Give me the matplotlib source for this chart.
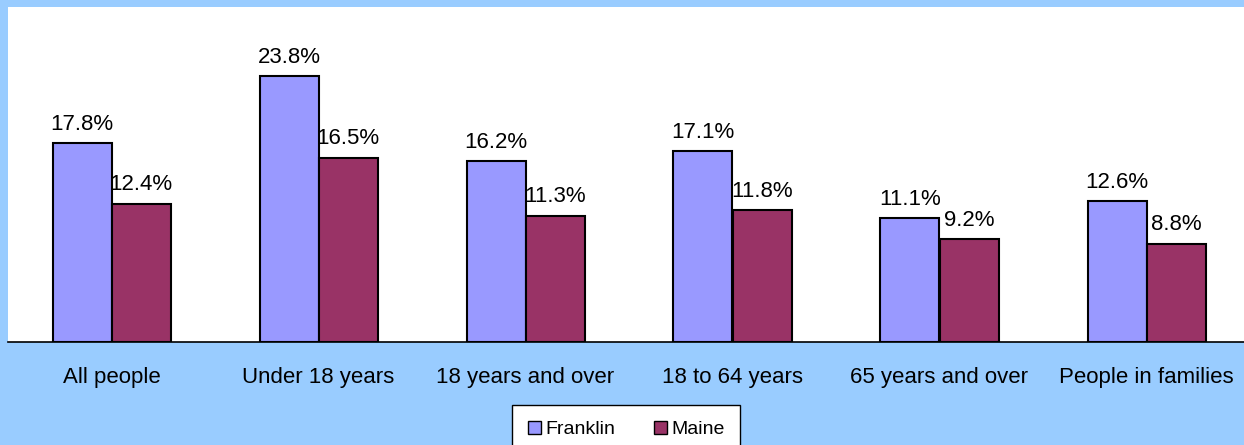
import numpy as np
import matplotlib.pyplot as plt
from matplotlib.patches import Patch

categories = ['All people', 'Under 18 years', '18 years and over', '18 to 64 years',
              '65 years and over', 'People in families']
franklin = [17.8, 23.8, 16.2, 17.1, 11.1, 12.6]
maine = [12.4, 16.5, 11.3, 11.8, 9.2, 8.8]

plt.rcParams['font.family'] = ['Liberation Sans', 'DejaVu Sans']

W, H = 1244, 445
fig = plt.figure(figsize=(W / 100, H / 100), dpi=100)
fig.patch.set_facecolor('#99CCFF')

# plot area: white, from x=8 to past the right edge, y=7..342
ax = fig.add_axes([8 / W, 1 - 342 / H, 1242 / W, 335 / H])
ax.set_facecolor('white')

x = np.arange(len(categories))
w = 59 / 207
b1 = ax.bar(x - w / 2, franklin, w, color='#9999FF', edgecolor='black', linewidth=1.5)
b2 = ax.bar(x + w / 2, maine, w, color='#993366', edgecolor='black', linewidth=1.5)

for bars, vals in ((b1, franklin), (b2, maine)):
    for r, v in zip(bars, vals):
        ax.annotate(f'{v}%', (r.get_x() + r.get_width() / 2, v), xytext=(0, 6),
                    textcoords='offset points', ha='center', va='bottom', fontsize=16)

ax.set_xlim(-0.5, len(categories) - 0.5)
ax.set_ylim(0, 30)
ax.set_yticks([])
ax.set_xticks(x)
ax.set_xticklabels(categories, fontsize=16)
ax.tick_params(axis='x', length=0, pad=18)
for s in ['left', 'right', 'top']:
    ax.spines[s].set_visible(False)
ax.spines['bottom'].set_linewidth(1.2)

handles = [Patch(facecolor='#9999FF', edgecolor='black', label='Franklin'),
           Patch(facecolor='#993366', edgecolor='black', label='Maine')]
leg = fig.legend(handles=handles, loc='upper left', bbox_to_anchor=(512 / W, 1 - 405 / H),
                 ncol=2, fontsize=14, frameon=True, fancybox=False, handlelength=0.7,
                 handleheight=0.7, handletextpad=0.2, columnspacing=2.0,
                 borderpad=0.8, borderaxespad=0)
leg.get_frame().set_edgecolor('black')
leg.get_frame().set_linewidth(1)
leg.get_frame().set_facecolor('white')
leg.get_frame().set_alpha(1)

fig.savefig('out.png', dpi=100, facecolor=fig.get_facecolor())
